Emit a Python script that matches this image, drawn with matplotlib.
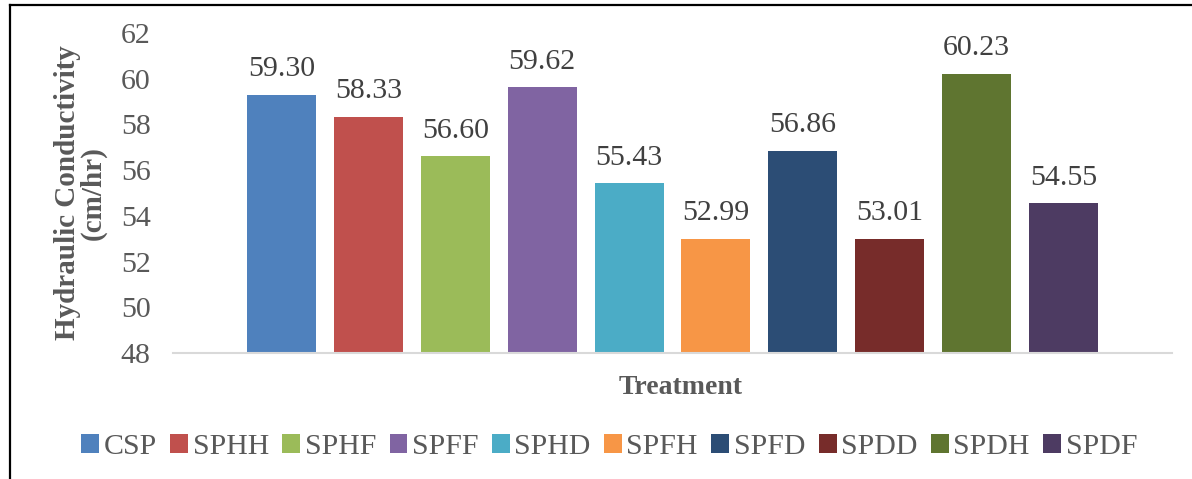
import matplotlib.pyplot as plt
from matplotlib.patches import Patch
from matplotlib.lines import Line2D

treatments = ["CSP", "SPHH", "SPHF", "SPFF", "SPHD", "SPFH", "SPFD", "SPDD", "SPDH", "SPDF"]
conductivity = [59.30, 58.33, 56.60, 59.62, 55.43, 52.99, 56.86, 53.01, 60.23, 54.55]
colors = ["#4F81BD", "#C0504D", "#9BBB59", "#8064A2", "#4BACC6",
          "#F79646", "#2C4D75", "#772C2A", "#5F7530", "#4D3B62"]
yticks = [48, 50, 52, 54, 56, 58, 60, 62]

plt.rcParams['font.family'] = ['Liberation Serif', 'DejaVu Serif']
txt = "#595959"
fs = 21.5

fig = plt.figure(figsize=(11.92, 4.79), dpi=100)
ax = fig.add_axes([0.1451, 0.263, 0.8381, 0.668])

pos = list(range(len(treatments)))
ax.bar(pos, conductivity, width=0.795, color=colors)
for p, v in zip(pos, conductivity):
    ax.text(p, v + 0.55, "%.2f" % v, ha="center", va="bottom", fontsize=fs, color="#404040")

ax.set_ylim(48, 62)
ax.set_xlim(-1.25, 10.25)
ax.set_yticks(yticks)
ax.set_yticklabels([str(t) for t in yticks], fontsize=fs, color=txt)
ax.set_xticks([])
ax.tick_params(axis="y", length=0, pad=16)
for s in ["top", "right", "left"]:
    ax.spines[s].set_visible(False)
ax.spines["bottom"].set_color("#D9D9D9")
ax.spines["bottom"].set_linewidth(1.5)

ax.set_ylabel("Hydraulic Conductivity\n(cm/hr)", fontsize=21, fontweight="bold",
              color=txt, labelpad=10, linespacing=0.95)
fig.text(0.571, 0.192, "Treatment", ha="center", va="center", fontsize=20,
         fontweight="bold", color=txt)

handles = [Patch(facecolor=c) for c in colors]
fig.legend(handles, treatments, loc="center", bbox_to_anchor=(0.511, 0.066), ncol=10,
           frameon=False, fontsize=fs, labelcolor=txt, handlelength=0.6,
           handleheight=0.6, handletextpad=0.15, columnspacing=0.45)

# outer frame: left and top edges only
fig.add_artist(Line2D([10 / 1192, 10 / 1192], [0, 1 - 5 / 479], color="black", lw=1.6))
fig.add_artist(Line2D([10 / 1192, 1], [1 - 5 / 479, 1 - 5 / 479], color="black", lw=1.6))

fig.savefig("out.png", dpi=100)
